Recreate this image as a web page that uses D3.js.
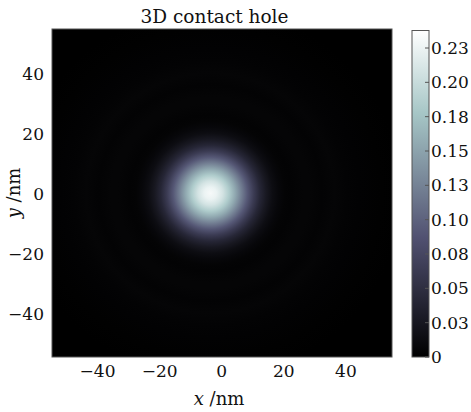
<!DOCTYPE html>
<html>
<head>
<meta charset="utf-8">
<script src="https://cdn.jsdelivr.net/npm/d3@7"></script>
<style>
  body { margin: 0; background: #fff; }
  text { font-family: "DejaVu Serif", serif; fill: #111; }
</style>
</head>
<body>
<div id="chart"></div>
<script>
// axis ranges (nm)
const xDomain = [-54.5, 55];
const yDomain = [-54.3, 55];
const axisTicks = [-40, -20, 0, 20, 40];

// spot centre (nm) and its radial intensity profile
const spotCenter = [-3.5, 0.3];
const profileRadius = [0, 2, 4, 6, 8, 10, 12, 14, 16, 18, 20, 22, 24, 26, 28, 30, 32, 34, 36, 38, 40, 42, 44, 48, 55, 62];
const profileValue = [0.236, 0.229, 0.212, 0.187, 0.157, 0.125, 0.093, 0.065, 0.042, 0.026, 0.014, 0.008, 0.004, 0.003, 0.004, 0.005, 0.005, 0.004, 0.003, 0.004, 0.005, 0.004, 0.003, 0.002, 0.001, 0];

// colorbar
const colorMax = 0.2425;
const colorTicks = [0, 0.0255, 0.051, 0.0765, 0.102, 0.1275, 0.153, 0.1785, 0.204, 0.2295];
const colorTickLabels = ["0", "0.03", "0.05", "0.08", "0.10", "0.13", "0.15", "0.18", "0.20", "0.23"];

const width = 471, height = 412;
const margin = { top: 29, left: 52 };
const plotW = 340, plotH = 328;
const cbX = 412, cbW = 17;

// matplotlib "bone" colormap knots
const boneKnots = [0, 0.365079, 0.746032, 1];
const boneColors = ["rgb(0,0,0)", "rgb(81,81,113)", "rgb(166,198,198)", "rgb(255,255,255)"];

const color = d3.scaleLinear()
  .domain(boneKnots.map(k => k * colorMax))
  .range(boneColors)
  .interpolate(d3.interpolateRgb)
  .clamp(true);

const svg = d3.select("#chart").append("svg")
  .attr("width", width)
  .attr("height", height);

const defs = svg.append("defs");

const x = d3.scaleLinear().domain(xDomain).range([margin.left, margin.left + plotW]);
const y = d3.scaleLinear().domain(yDomain).range([margin.top + plotH, margin.top]);

const rMax = d3.max(profileRadius);

// radial gradient built from the profile
const spotGrad = defs.append("radialGradient")
  .attr("id", "spot")
  .attr("cx", 0.5).attr("cy", 0.5).attr("r", 0.5);
spotGrad.selectAll("stop")
  .data(profileRadius)
  .enter()
  .append("stop")
  .attr("offset", d => d / rMax)
  .attr("stop-color", (d, i) => color(profileValue[i]));

defs.append("clipPath").attr("id", "plotClip")
  .append("rect")
  .attr("x", margin.left).attr("y", margin.top)
  .attr("width", plotW).attr("height", plotH);

const plot = svg.append("g").attr("clip-path", "url(#plotClip)");

plot.append("rect")
  .attr("x", margin.left).attr("y", margin.top)
  .attr("width", plotW).attr("height", plotH)
  .attr("fill", color(0));

plot.append("ellipse")
  .attr("cx", x(spotCenter[0]))
  .attr("cy", y(spotCenter[1]))
  .attr("rx", x(rMax) - x(0))
  .attr("ry", y(0) - y(rMax))
  .attr("fill", "url(#spot)");

svg.append("rect")
  .attr("x", margin.left).attr("y", margin.top)
  .attr("width", plotW).attr("height", plotH)
  .attr("fill", "none")
  .attr("stroke", "#555")
  .attr("stroke-width", 1);

// axes
const xAxis = svg.append("g")
  .attr("transform", "translate(0," + (margin.top + plotH) + ")")
  .call(d3.axisBottom(x).tickValues(axisTicks).tickSize(0).tickPadding(8));
const yAxis = svg.append("g")
  .attr("transform", "translate(" + margin.left + ",0)")
  .call(d3.axisLeft(y).tickValues(axisTicks).tickSize(0).tickPadding(8));

[xAxis, yAxis].forEach(a => {
  a.select(".domain").remove();
  a.selectAll("text").attr("font-size", 17).attr("fill", "#111")
    .attr("font-family", "DejaVu Serif, serif");
});

// title
svg.append("text")
  .attr("x", 214.5).attr("y", 23)
  .attr("text-anchor", "middle")
  .attr("font-size", 18.5)
  .text("3D contact hole");

// axis labels
const xl = svg.append("text")
  .attr("x", 219).attr("y", 405)
  .attr("text-anchor", "middle")
  .attr("font-size", 18);
xl.append("tspan").attr("font-style", "italic").text("x");
xl.append("tspan").text(" /nm");

const yl = svg.append("text")
  .attr("transform", "translate(20,193) rotate(-90)")
  .attr("text-anchor", "middle")
  .attr("font-size", 18);
yl.append("tspan").attr("font-style", "italic").text("y");
yl.append("tspan").text(" /nm");

// colorbar
const cbScale = d3.scaleLinear().domain([0, colorMax]).range([margin.top + plotH, margin.top + 1.5]);

const cbGrad = defs.append("linearGradient")
  .attr("id", "cbGrad")
  .attr("x1", 0).attr("y1", 1).attr("x2", 0).attr("y2", 0);
cbGrad.selectAll("stop")
  .data(boneKnots)
  .enter()
  .append("stop")
  .attr("offset", d => d)
  .attr("stop-color", (d, i) => boneColors[i]);

svg.append("rect")
  .attr("x", cbX).attr("y", cbScale(colorMax))
  .attr("width", cbW).attr("height", cbScale(0) - cbScale(colorMax))
  .attr("fill", "url(#cbGrad)")
  .attr("stroke", "#555")
  .attr("stroke-width", 1);

const cbTick = svg.append("g")
  .selectAll("g")
  .data(colorTicks)
  .enter()
  .append("g")
  .attr("transform", d => "translate(" + (cbX + cbW) + "," + cbScale(d) + ")");

cbTick.append("line")
  .attr("x1", -4).attr("x2", 0)
  .attr("stroke", "#555");

cbTick.append("text")
  .attr("x", 2)
  .attr("dy", "0.35em")
  .attr("font-size", 17)
  .text((d, i) => colorTickLabels[i]);
</script>
</body>
</html>
